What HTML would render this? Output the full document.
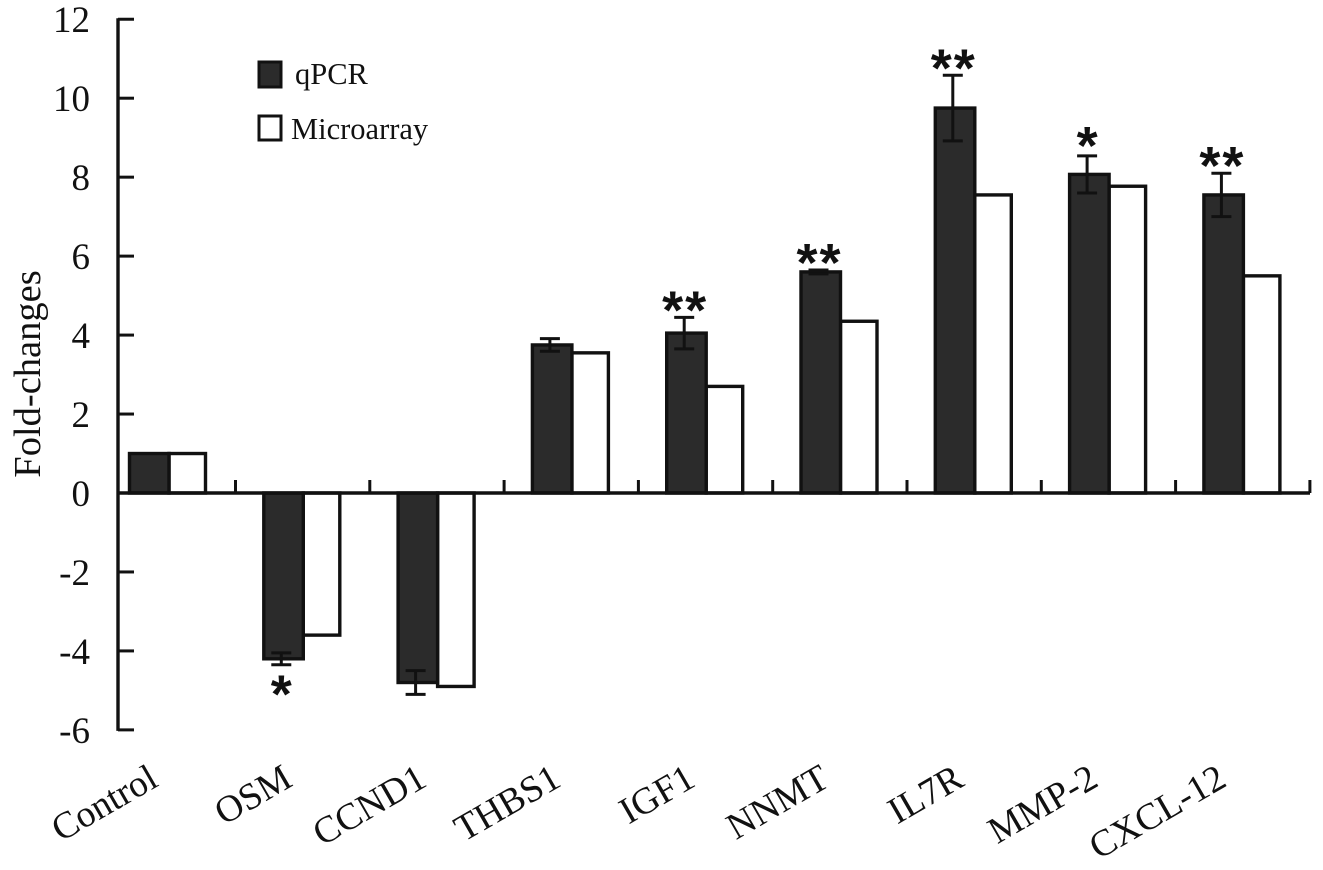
<!DOCTYPE html>
<html>
<head>
<meta charset="utf-8">
<style>
html,body{margin:0;padding:0;background:#fff;}
svg{display:block;}
text{font-family:"Liberation Serif",serif;fill:#111;}
</style>
</head>
<body>
<svg id="chart" width="1323" height="870" viewBox="0 0 1323 870" xmlns="http://www.w3.org/2000/svg"></svg>
<script>
const categories = ["Control","OSM","CCND1","THBS1","IGF1","NNMT","IL7R","MMP-2","CXCL-12"];
const qpcrValues = [1.0,-4.2,-4.8,3.75,4.05,5.6,9.75,8.07,7.55];
const microarrayValues = [1.0,-3.6,-4.9,3.55,2.7,4.35,7.55,7.77,5.5];
const qpcrErrors = [0,0.15,0.3,0.16,0.4,0.05,0.83,0.47,0.55];
const significance = ["","*","","","**","**","**","*","**"];
const yTicks = [12,10,8,6,4,2,0,-2,-4,-6];

const svg = document.getElementById('chart');
const NS = 'http://www.w3.org/2000/svg';
const yScale = v => 493 - 39.48 * v;
const xCenter = i => 169 + 134.3 * i;
function add(tag, attrs, name, text) {
  const el = document.createElementNS(NS, tag);
  for (const k in attrs) el.setAttribute(k, attrs[k]);
  
  
  if (text !== undefined) el.textContent = text;
  svg.appendChild(el);
  return el;
}
const ink = '#111';
const qpcrWidth = 39.5;
const microWidth = 36.5;

// bars
categories.forEach((c, i) => {
  const x0 = xCenter(i);
  const q = qpcrValues[i], m = microarrayValues[i];
  const key = c.toLowerCase();
  add('rect', {x: x0, y: Math.min(yScale(m), yScale(0)), width: microWidth, height: Math.abs(yScale(m) - yScale(0)), fill: '#fff', stroke: ink, 'stroke-width': 3.4}, 'bar-microarray-' + key);
  add('rect', {x: x0 - qpcrWidth, y: Math.min(yScale(q), yScale(0)), width: qpcrWidth, height: Math.abs(yScale(q) - yScale(0)), fill: '#2b2b2b', stroke: ink, 'stroke-width': 3.4}, 'bar-qpcr-' + key);
  const e = qpcrErrors[i];
  if (e > 0) {
    const ex = x0 - 22;
    const top = yScale(q + e), bot = yScale(q - e);
    add('line', {x1: ex, x2: ex, y1: top, y2: bot, stroke: ink, 'stroke-width': 3}, 'error-bar-' + key);
    add('line', {x1: ex - 10, x2: ex + 10, y1: top, y2: top, stroke: ink, 'stroke-width': 3}, 'error-cap-top-' + key);
    add('line', {x1: ex - 10, x2: ex + 10, y1: bot, y2: bot, stroke: ink, 'stroke-width': 3}, 'error-cap-bottom-' + key);
  }
  const s = significance[i];
  if (s) {
    const ex = x0 - 22;
    const yy = q >= 0 ? yScale(q + e) + (s.length === 1 ? 8 : 11) : yScale(q - e) + 48;
    add('text', {x: ex + 1, y: yy, 'text-anchor': 'middle', 'font-size': 54, 'font-weight': 'bold', style: 'font-family:"Liberation Sans",sans-serif;letter-spacing:2px'}, 'significance-' + key, s);
  }
  // category label
  const lx = x0 - 9 - (i === 8 ? 6 : 0), ly = 785;
  add('text', {x: lx, y: ly, 'text-anchor': 'end', 'font-size': 37.5, transform: 'rotate(-30 ' + lx + ' ' + ly + ')'}, 'category-label-' + key, c);
  // x tick
  const tx = x0 + 66.5;
  add('line', {x1: tx, x2: tx, y1: yScale(0) - 13, y2: yScale(0), stroke: ink, 'stroke-width': 3}, 'x-tick-' + key);
});

// axes
add('line', {x1: 118, x2: 118, y1: yScale(12) - 1, y2: yScale(-6) + 1, stroke: ink, 'stroke-width': 3.4}, 'y-axis');
add('line', {x1: 118, x2: 1310, y1: yScale(0), y2: yScale(0), stroke: ink, 'stroke-width': 3.4}, 'x-axis');

yTicks.forEach(t => {
  const y = yScale(t);
  add('line', {x1: 118, x2: 134, y1: y, y2: y, stroke: ink, 'stroke-width': 3}, 'y-tick-' + t);
  add('text', {x: 90, y: y + 13, 'text-anchor': 'end', 'font-size': 37}, 'y-tick-label-' + t, String(t));
});

add('text', {x: 40, y: 374, 'text-anchor': 'middle', 'font-size': 38.5, transform: 'rotate(-90 40 374)'}, 'y-axis-title', 'Fold-changes');

// legend
add('rect', {x: 259, y: 62, width: 22, height: 25, fill: '#2b2b2b', stroke: ink, 'stroke-width': 3}, 'legend-swatch-qpcr');
add('text', {x: 295, y: 84, 'font-size': 30.5}, 'legend-label-qpcr', 'qPCR');
add('rect', {x: 259, y: 116, width: 22, height: 24, fill: '#fff', stroke: ink, 'stroke-width': 3}, 'legend-swatch-microarray');
add('text', {x: 291, y: 139, 'font-size': 30.5}, 'legend-label-microarray', 'Microarray');
</script>
</body>
</html>
